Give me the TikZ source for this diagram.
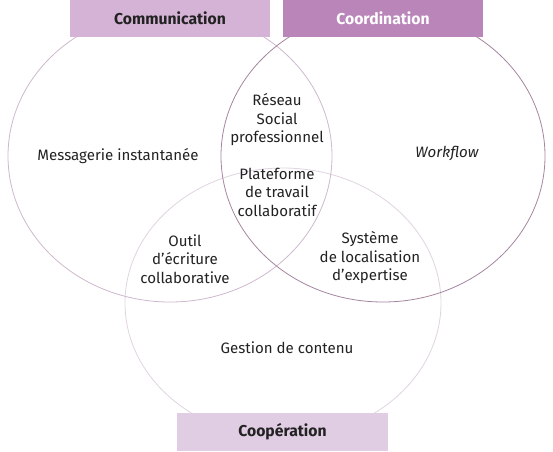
\documentclass[tikz,border=0pt]{standalone}
\usepackage{fontspec}
\setmainfont{Fira Sans}
\usetikzlibrary{positioning}

\definecolor{commfill}{HTML}{D5B3D6}
\definecolor{coordfill}{HTML}{BA86BA}
\definecolor{coopfill}{HTML}{E0CCE3}
\definecolor{commline}{HTML}{CDB8CD}
\definecolor{coordline}{HTML}{A4859F}
\definecolor{coopline}{HTML}{E0D4E0}
\definecolor{txt}{HTML}{222222}

\begin{document}
\begin{tikzpicture}[x=0.75pt, y=-0.75pt,
        title/.style={rectangle, minimum width=150pt, minimum height=28pt,
                      inner sep=0pt, font=\bfseries\fontsize{11.8}{13}\selectfont, text=txt},
        item/.style={align=center, font=\fontsize{11.3}{13.9}\selectfont, text=txt},
        ring/.style={line width=0.6pt}
    ]
        \useasboundingbox (0,0) rectangle (553,451);

        % the three sets
        \draw[ring, draw=coopline]  (283,303) ellipse [x radius=158, y radius=135];
        \draw[ring, draw=commline]  (170,156) ellipse [x radius=162, y radius=146];
        \draw[ring, draw=coordline] (383,156) ellipse [x radius=162, y radius=146];

        \node[title, fill=commfill] (comm) at (170,18.5) {Communication};
        \node[title, fill=coordfill, text=white] (coord) at (383,18.5) {Coordination};
        \node[title, fill=coopfill, minimum width=158pt] (coop) at (282.5,432) {Coopération};

        \node[item] (msg)    at (118,156) {Messagerie instantanée};
        \node[item] (wf)     at (447,153) {\itshape Workflow};
        \node[item] (rsp)    at (277,120) {Réseau\\Social\\professionnel};
        \node[item] (ptc)    at (277,192) {Plateforme\\de travail\\collaboratif};
        \node[item] (outil)  at (185,259) {Outil\\d’écriture\\collaborative};
        \node[item] (expert) at (370,258) {Système\\de localisation\\d’expertise};
        \node[item] (gc)     at (287,348) {Gestion de contenu};
    \end{tikzpicture}
\end{document}
